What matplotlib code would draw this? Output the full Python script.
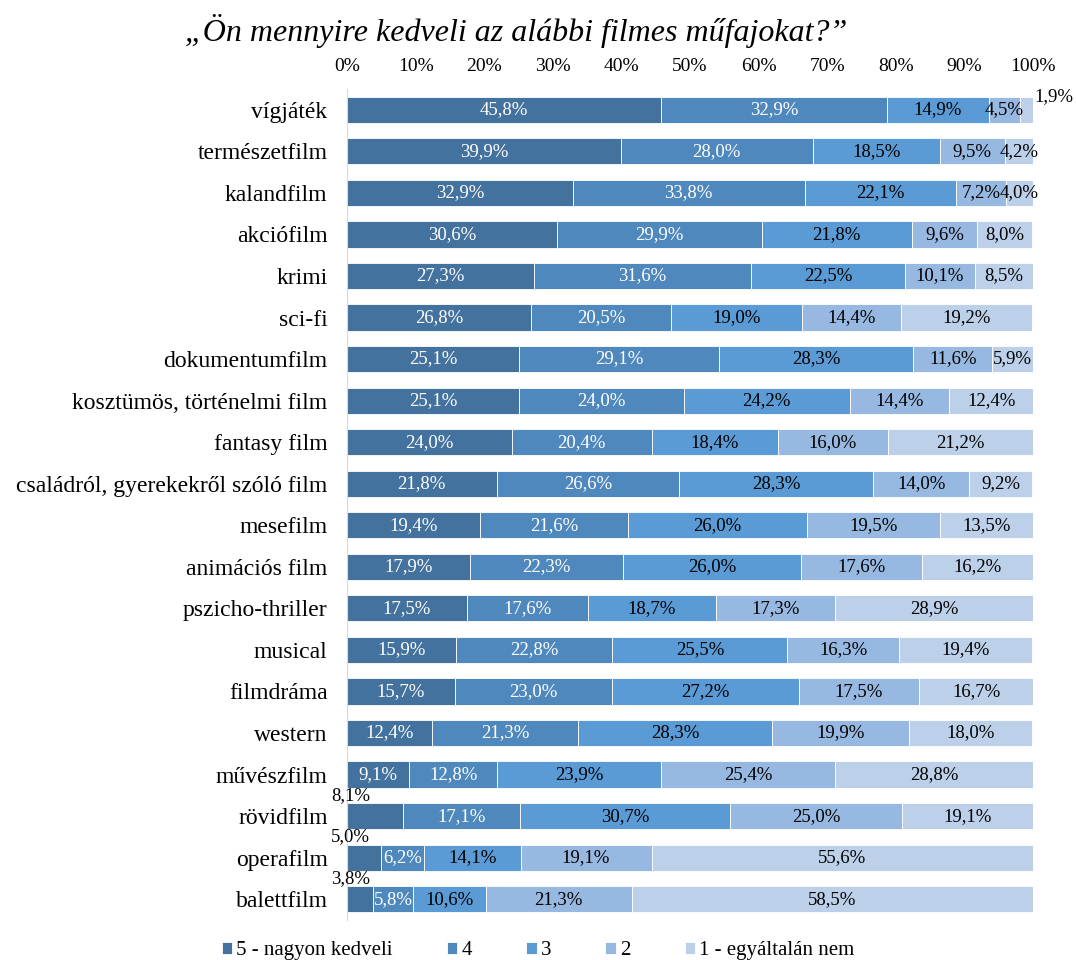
import matplotlib
matplotlib.use("Agg")
import matplotlib.pyplot as plt
import numpy as np

categories = [
    "vígjáték", "természetfilm", "kalandfilm", "akciófilm", "krimi", "sci-fi",
    "dokumentumfilm", "kosztümös, történelmi film", "fantasy film",
    "családról, gyerekekről szóló film", "mesefilm", "animációs film",
    "pszicho-thriller", "musical", "filmdráma", "western", "művészfilm",
    "rövidfilm", "operafilm", "balettfilm",
]
s5 = [45.8, 39.9, 32.9, 30.6, 27.3, 26.8, 25.1, 25.1, 24.0, 21.8, 19.4, 17.9, 17.5, 15.9, 15.7, 12.4, 9.1, 8.1, 5.0, 3.8]
s4 = [32.9, 28.0, 33.8, 29.9, 31.6, 20.5, 29.1, 24.0, 20.4, 26.6, 21.6, 22.3, 17.6, 22.8, 23.0, 21.3, 12.8, 17.1, 6.2, 5.8]
s3 = [14.9, 18.5, 22.1, 21.8, 22.5, 19.0, 28.3, 24.2, 18.4, 28.3, 26.0, 26.0, 18.7, 25.5, 27.2, 28.3, 23.9, 30.7, 14.1, 10.6]
s2 = [4.5, 9.5, 7.2, 9.6, 10.1, 14.4, 11.6, 14.4, 16.0, 14.0, 19.5, 17.6, 17.3, 16.3, 17.5, 19.9, 25.4, 25.0, 19.1, 21.3]
s1 = [1.9, 4.2, 4.0, 8.0, 8.5, 19.2, 5.9, 12.4, 21.2, 9.2, 13.5, 16.2, 28.9, 19.4, 16.7, 18.0, 28.8, 19.1, 55.6, 58.5]
series_names = ["5 - nagyon kedveli", "4", "3", "2", "1 - egyáltalán nem"]
colors = ["#44729E", "#4F88BD", "#5A9AD5", "#97B8E0", "#BDD0EA"]
text_colors = ["white", "white", "black", "black", "black"]

plt.rcParams["font.family"] = ["Liberation Serif", "DejaVu Serif"]

fig = plt.figure(figsize=(10.76, 9.6), dpi=100)
ax = fig.add_axes([0.3225, 0.0417, 0.6375, 0.8656])

data = np.array([s5, s4, s3, s2, s1])
y = np.arange(len(categories))
left = np.zeros(len(categories))
for k, vals in enumerate(data):
    ax.barh(y, vals, left=left, height=0.63, color=colors[k],
            edgecolor="white", linewidth=0.6, label=series_names[k])
    for i, v in enumerate(vals):
        lbl = f"{v:.1f}%".replace(".", ",")
        if k == 0 and v < 9:
            # small first segment: label sits above the bar start
            ax.text(left[i] + 0.5, y[i] - 0.5, lbl, ha="center", va="center",
                    fontsize=13.5, color="black")
        elif k == 4 and v < 3:
            ax.text(left[i] + v + 3, y[i] - 0.32, lbl, ha="center",
                    va="center", fontsize=13.5, color="black")
        else:
            ax.text(left[i] + v / 2, y[i], lbl, ha="center", va="center",
                    fontsize=13.5, color=text_colors[k])
    left += vals

ax.set_xlim(0, 100)
ax.set_ylim(len(categories) - 0.5, -0.5)
ax.set_yticks(y)
ax.set_yticklabels(categories, fontsize=17)
ax.set_xticks(np.arange(0, 101, 10))
ax.set_xticklabels([f"{t}%" for t in range(0, 101, 10)], fontsize=14)
ax.xaxis.tick_top()
ax.tick_params(axis="both", length=0)
ax.tick_params(axis="x", pad=10)
ax.tick_params(axis="y", pad=14)
for side in ["top", "right", "bottom"]:
    ax.spines[side].set_visible(False)
ax.spines["left"].set_color("#D9D9D9")

fig.text(0.48, 0.968, "„Ön mennyire kedveli az alábbi filmes műfajokat?”",
         ha="center", va="center", fontsize=23, style="italic")

fig.legend(loc="lower center", bbox_to_anchor=(0.5, -0.02), ncol=5,
           frameon=False, fontsize=15, handlelength=0.5, handleheight=0.5,
           handletextpad=0.2, columnspacing=2.6)

fig.savefig("out.png", dpi=100)
